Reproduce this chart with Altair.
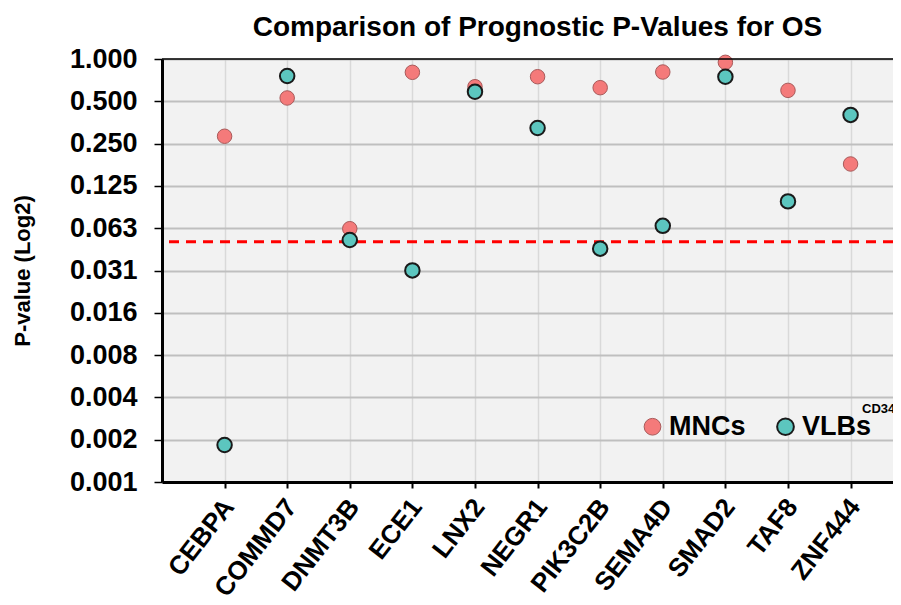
import altair as alt
import pandas as pd

genes = ["CEBPA", "COMMD7", "DNMT3B", "ECE1", "LNX2", "NEGR1",
         "PIK3C2B", "SEMA4D", "SMAD2", "TAF8", "ZNF444"]
mnc_p = [0.282, 0.528, 0.062, 0.804, 0.635, 0.748, 0.625, 0.808, 0.947, 0.598, 0.179]
vlb_p = [0.00179, 0.757, 0.0515, 0.0313, 0.585, 0.323, 0.0447, 0.065, 0.748, 0.097, 0.40]
series = ["MNCs", "VLBs"]
y_ticks = [1.0, 0.5, 0.25, 0.125, 0.0625, 0.03125, 0.015625, 0.0078125,
           0.00390625, 0.001953125, 0.0009765625]
threshold = [0.05]

rows = []
for g, v in zip(genes, mnc_p):
    rows.append({"gene": g, "p": v, "series": "MNCs"})
for g, v in zip(genes, vlb_p):
    rows.append({"gene": g, "p": v, "series": "VLBs"})
df = pd.DataFrame(rows)

FONT = "Liberation Sans"
W, H = 731, 423

x_enc = alt.X("gene:N", sort=genes,
              scale=alt.Scale(type="point", padding=0.8387, align=0.596),
              axis=alt.Axis(title=None, labelAngle=-52, labelAlign="right",
                            labelBaseline="middle", labelFont=FONT, labelFontSize=26,
                            labelFontWeight="bold", labelColor="black", labelPadding=14,
                            labelOffset=4,
                            tickSize=6, tickWidth=2, tickColor="black",
                            domainColor="black", domainWidth=3,
                            grid=True, gridColor="#D9D9D9", gridWidth=1.5))
y_scale = alt.Scale(type="log", base=2, domain=[0.0009765625, 1.0], nice=False)
y_axis = alt.Axis(title="P-value (Log2)", values=y_ticks, format=".3f",
                  labelFont=FONT, labelFontSize=27, labelFontWeight="bold",
                  labelColor="black", labelPadding=17, labelOverlap=False,
                  tickSize=8, tickWidth=1.5, tickColor="black",
                  domainColor="black", domainWidth=3,
                  grid=True, gridColor="#BFBFBF", gridWidth=2,
                  titleFont=FONT, titleFontSize=22, titleFontWeight="bold",
                  titleColor="black", titleX=-140, titleY=H / 2,
                  titleAlign="center", titleBaseline="middle", titleAngle=-90)

rule = alt.Chart(pd.DataFrame({"p": threshold})).mark_rule(
    color="#FF0000", strokeWidth=3, strokeDash=[10, 7]
).encode(y=alt.Y("p:Q", scale=y_scale, axis=y_axis))

legend = alt.Legend(title=None, orient="none", legendX=477, legendY=354,
                    direction="horizontal", labelFont=FONT, labelFontSize=27,
                    labelFontWeight="bold", labelColor="black", symbolSize=280,
                    symbolType="circle", symbolStrokeWidth=1.5, labelOffset=3,
                    columnPadding=26)

points = alt.Chart(df).mark_circle(size=210, opacity=1).encode(
    x=x_enc,
    y=alt.Y("p:Q", scale=y_scale, axis=y_axis),
    fill=alt.Fill("series:N", scale=alt.Scale(domain=series, range=["#F47A7A", "#5CC6BF"]),
                  legend=legend),
    stroke=alt.Stroke("series:N", scale=alt.Scale(domain=series, range=["#A85A5A", "#1A1A1A"]),
                      legend=legend),
    strokeWidth=alt.StrokeWidth("series:N", scale=alt.Scale(domain=series, range=[1, 2]),
                                legend=None),
)

one = pd.DataFrame({"a": [0]})
top_line = alt.Chart(one).mark_rule(color="black", strokeWidth=1.5).encode(
    x=alt.value(0), x2=alt.value(W), y=alt.value(0))
sup = alt.Chart(one).mark_text(text="CD34+", align="left", baseline="middle",
                               font=FONT, fontSize=13, fontWeight="bold",
                               color="black").encode(x=alt.value(700), y=alt.value(350))

chart = alt.layer(rule, points, top_line, sup).properties(
    width=W, height=H,
    autosize=alt.AutoSizeParams(type="none"),
    padding={"left": 154, "top": 51, "right": 0, "bottom": 123},
    background="white",
    title=alt.TitleParams("Comparison of Prognostic P-Values for OS", font=FONT,
                          fontSize=28, fontWeight="bold", color="black",
                          anchor="middle", dx=10, offset=3),
).configure_view(stroke=None, fill="#F2F2F2")

chart.save("out.html", embed_options={"renderer": "svg", "actions": False})
